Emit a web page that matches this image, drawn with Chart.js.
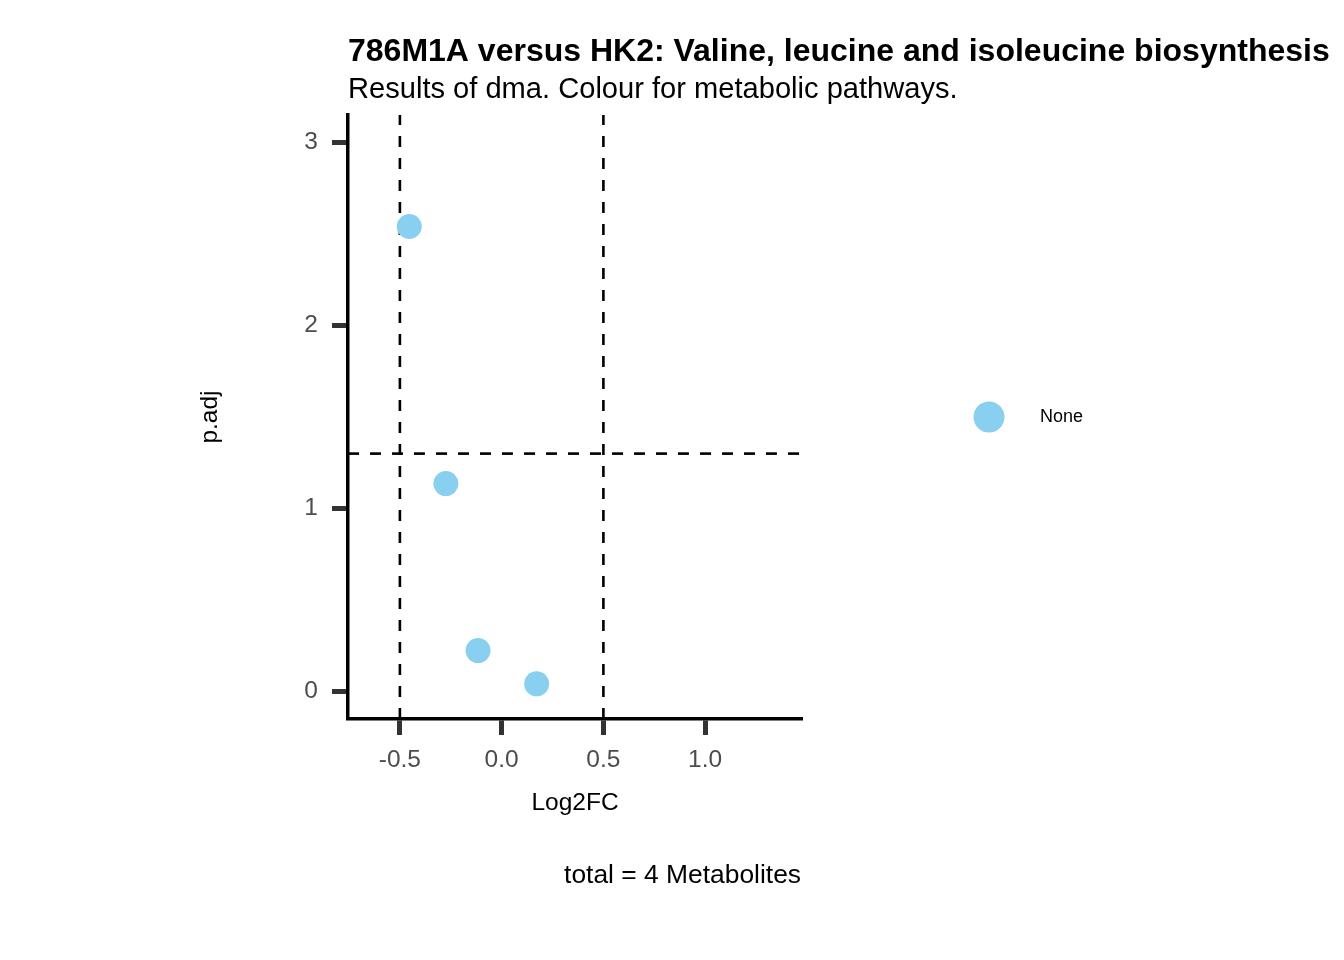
<!DOCTYPE html>
<html lang="en">
<head>
    <meta charset="UTF-8">
    <title>786M1A versus HK2: Valine, leucine and isoleucine biosynthesis</title>
    <script src="https://cdn.jsdelivr.net/npm/chart.js"></script>
    <style>
        html, body { margin: 0; padding: 0; background: #fff; }
        .wrap { width: 1344px; height: 960px; position: relative; }
    </style>
</head>
<body>
    <div class="wrap">
        <canvas id="volcano"></canvas>
    </div>

    <script>
        // Values
        const log2FC = [-0.454, -0.274, -0.116, 0.172];
        const pAdj = [2.541, 1.136, 0.224, 0.042];
        const pathwayLabel = 'None';

        const xTicks = [-0.5, 0.0, 0.5, 1.0];
        const yTicks = [0, 1, 2, 3];
        const xRange = [-0.755, 1.476];
        const yRange = [-0.15, 3.15];

        // cut-offs shown as dashed lines
        const fcCutoffs = [-0.5, 0.5];
        const padjCutoff = 1.3;

        const titleText = '786M1A versus HK2: Valine, leucine and isoleucine biosynthesis';
        const subtitleText = 'Results of dma. Colour for metabolic pathways.';
        const captionText = 'total = 4 Metabolites';

        const pointColour = '#89CFF0';
        const fontFamily = '"Liberation Sans", Arial, Helvetica, sans-serif';

        const dashStyle = {
            type: 'line',
            borderColor: '#000',
            borderWidth: 2.6,
            borderDash: [11, 11],
            pointRadius: 0,
            pointHoverRadius: 0,
            fill: false,
            showLine: true
        };

        const datasets = [{
            type: 'scatter',
            label: pathwayLabel,
            data: log2FC.map((x, i) => ({ x: x, y: pAdj[i] })),
            backgroundColor: pointColour,
            borderWidth: 0,
            pointRadius: 12.5,
            pointHoverRadius: 12.5
        }];
        fcCutoffs.forEach(c => {
            datasets.push(Object.assign({}, dashStyle, {
                label: 'fc ' + c,
                data: [{ x: c, y: yRange[0] }, { x: c, y: yRange[1] }]
            }));
        });
        datasets.push(Object.assign({}, dashStyle, {
            label: 'padj',
            data: [{ x: xRange[0], y: padjCutoff }, { x: xRange[1], y: padjCutoff }]
        }));

        // title, subtitle, caption and the legend key, placed against the plot panel
        const annotations = {
            id: 'annotations',
            afterDraw(chart) {
                const ctx = chart.ctx;
                const area = chart.chartArea;
                ctx.save();
                ctx.fillStyle = '#000';
                ctx.textBaseline = 'alphabetic';
                ctx.textAlign = 'left';
                ctx.font = 'bold 32px ' + fontFamily;
                ctx.fillText(titleText, area.left, 61);
                ctx.font = '29.1px ' + fontFamily;
                ctx.fillText(subtitleText, area.left, 98);

                ctx.textAlign = 'right';
                ctx.font = '26.4px ' + fontFamily;
                ctx.fillText(captionText, area.right - 1, 883);

                // legend key
                const ly = (area.top + area.bottom) / 2;
                ctx.beginPath();
                ctx.arc(989, ly, 15.5, 0, Math.PI * 2);
                ctx.fillStyle = pointColour;
                ctx.fill();
                ctx.fillStyle = '#000';
                ctx.textAlign = 'left';
                ctx.textBaseline = 'middle';
                ctx.font = '18px ' + fontFamily;
                ctx.fillText(pathwayLabel, 1040, ly);
                ctx.restore();
            }
        };

        const tickFont = { family: fontFamily, size: 24.5 };
        const axisTitleFont = { family: fontFamily, size: 24.5 };

        new Chart(document.getElementById('volcano'), {
            data: { datasets: datasets },
            plugins: [annotations],
            options: {
                responsive: true,
                maintainAspectRatio: false,
                animation: false,
                events: [],
                layout: { padding: { top: 115, left: 0, right: 542, bottom: 141 } },
                plugins: {
                    legend: { display: false },
                    title: { display: false },
                    tooltip: { enabled: false }
                },
                scales: {
                    x: {
                        type: 'linear',
                        min: xRange[0],
                        max: xRange[1],
                        afterBuildTicks: s => { s.ticks = xTicks.map(v => ({ value: v })); },
                        afterFit: s => { s.height = 100; },
                        ticks: {
                            callback: v => Number(v).toFixed(1),
                            color: '#4D4D4D',
                            font: tickFont,
                            padding: 11,
                            maxRotation: 0
                        },
                        grid: {
                            drawOnChartArea: false,
                            drawTicks: true,
                            tickLength: 16,
                            tickWidth: 5,
                            tickColor: '#333333'
                        },
                        border: { display: true, color: '#000', width: 3.5 },
                        title: {
                            display: true,
                            text: 'Log2FC',
                            color: '#000',
                            font: axisTitleFont,
                            padding: { top: 0, bottom: 1 }
                        }
                    },
                    y: {
                        type: 'linear',
                        min: yRange[0],
                        max: yRange[1],
                        afterBuildTicks: s => { s.ticks = yTicks.map(v => ({ value: v })); },
                        afterFit: s => { s.width = 348; },
                        ticks: {
                            callback: v => String(v),
                            color: '#4D4D4D',
                            font: tickFont,
                            padding: 14
                        },
                        grid: {
                            drawOnChartArea: false,
                            drawTicks: true,
                            tickLength: 16,
                            tickWidth: 5,
                            tickColor: '#333333'
                        },
                        border: { display: true, color: '#000', width: 3.5 },
                        title: {
                            display: true,
                            text: 'p.adj',
                            color: '#000',
                            font: axisTitleFont,
                            padding: { top: 196, bottom: 0 }
                        }
                    }
                }
            }
        });
    </script>
</body>
</html>
